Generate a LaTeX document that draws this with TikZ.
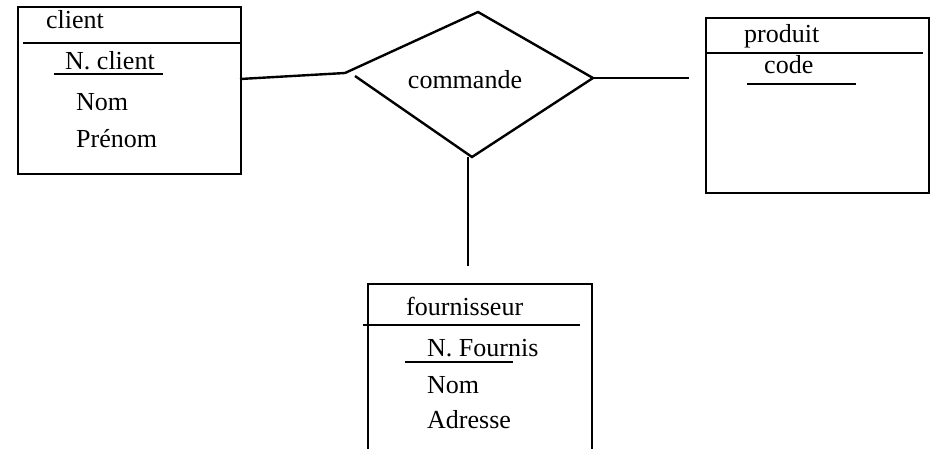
\documentclass[tikz,border=0pt]{standalone}
\usepackage{fontspec}
\setmainfont{Liberation Serif}
\begin{document}
\begin{tikzpicture}[x=1pt,y=-1pt,
  line width=2.4pt,
  entity/.style={draw, rectangle, inner sep=0pt, anchor=north west},
  lbl/.style={anchor=base west, inner sep=0pt, font=\fontsize{26}{30}\selectfont},
  rel/.style={anchor=base, inner sep=0pt, font=\fontsize{26}{30}\selectfont}]
\useasboundingbox (0,0) rectangle (932,448);

% ---- client entity
\node[entity, minimum width=223pt, minimum height=167pt] (client) at (17,6) {};
\draw (23,43) -- (240,43);
\node[lbl] (clientT) at (45,28) {client};
\node[lbl] (clientK) at (64,69) {N. client};
\draw (54,74) -- (163,74);
\node[lbl] (clientA1) at (75,110) {Nom};
\node[lbl] (clientA2) at (75,147) {Prénom};

% ---- produit entity
\node[entity, minimum width=223pt, minimum height=175pt] (produit) at (705,17) {};
\draw (705,53) -- (923,53);
\node[lbl] (produitT) at (743,42) {produit};
\node[lbl] (produitK) at (763,73) {code};
\draw (747,84) -- (856,84);

% ---- fournisseur entity (open at the bottom edge)
\coordinate (fBL) at (368,450);
\coordinate (fTL) at (368,284);
\coordinate (fTR) at (592,284);
\coordinate (fBR) at (592,450);
\draw (fBL) -- (fTL) -- (fTR) -- (fBR);
\draw (363,325) -- (580,325);
\node[lbl] (fournT) at (405,315) {fournisseur};
\node[lbl] (fournK) at (426,356) {N. Fournis};
\draw (405,362) -- (513,362);
\node[lbl] (fournA1) at (426,393) {Nom};
\node[lbl] (fournA2) at (426,428) {Adresse};

% ---- commande relationship
\coordinate (dTop) at (478,12);
\coordinate (dRight) at (593,78);
\coordinate (dBot) at (472,157);
\coordinate (dLeft) at (345,73);
\coordinate (dLeftB) at (355,76);
\draw (dLeftB) -- (dBot) -- (dRight) -- (dTop) -- (dLeft);
\node[rel] (commande) at (465,88) {commande};

% ---- connectors
\coordinate (cOut) at (240,79);
\coordinate (pIn) at (689,78);
\coordinate (fIn) at (468,266);
\draw (cOut) -- (dLeft);
\draw (dRight) -- (pIn);
\draw (dBot -| fIn) -- (fIn);
\end{tikzpicture}
\end{document}
